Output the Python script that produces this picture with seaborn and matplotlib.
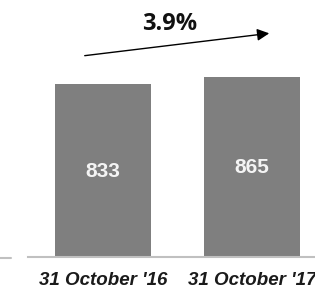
import matplotlib
matplotlib.use("Agg")
import matplotlib.pyplot as plt
import seaborn as sns
import pandas as pd
from matplotlib.lines import Line2D

categories = ["31 October '16", "31 October '17"]
values = [833, 865]
growth_label = "3.9%"

sns.set_style("white")
plt.rcParams['font.family'] = ['Liberation Sans', 'DejaVu Sans']

W, H = 315, 291
fig = plt.figure(figsize=(W / 100, H / 100), dpi=100)
# axes from x=28px to right edge, baseline at y=257px, top at y=0
ax = fig.add_axes([28 / W, (H - 257) / H, 1 - 28 / W, 257 / H])

df = pd.DataFrame({"date": categories, "value": values})
sns.barplot(data=df, x="date", y="value", color="#7f7f7f", saturation=1,
            width=0.644, ax=ax, edgecolor="none")

scale = 173 / 833.0  # px per unit
ax.set_ylim(0, 257 / scale)
ax.set_xlim(-0.503, 1.0 + (315 - 252) / 149.0)

for s in ["top", "right", "left"]:
    ax.spines[s].set_visible(False)
ax.spines["bottom"].set_color("#c0c0c0")
ax.spines["bottom"].set_linewidth(1.5)
ax.set_yticks([])
ax.set_xlabel("")
ax.set_ylabel("")
ax.tick_params(axis="x", length=0, pad=11)
for lab in ax.get_xticklabels():
    lab.set_fontweight("bold")
    lab.set_fontstyle("italic")
    lab.set_fontsize(13.5)
    lab.set_color("#1a1a1a")

for i, v in enumerate(values):
    ax.text(i, v / 2 - 3, f"{v}", ha="center", va="center", color="#f4f4f4",
            fontsize=15, fontweight="bold")

# growth arrow
y0 = (257 - 56) / scale
y1 = (257 - 33) / scale
ax.annotate("", xy=((272 - 103) / 149.0, y1), xytext=((82 - 103) / 149.0, y0),
            arrowprops=dict(arrowstyle="-|>", color="black", lw=1,
                            mutation_scale=18), annotation_clip=False)
ax.text((170 - 103) / 149.0, (257 - 24) / scale, growth_label, ha="center", va="center",
        fontsize=17, fontweight="bold", family=["Open Sans", "DejaVu Sans"], color="#111111")

# short grey line at far left
fig.add_artist(Line2D([0, 11 / W], [(H - 258) / H] * 2, color="#c0c0c0", lw=1.5))

fig.savefig("out.png", dpi=100)
